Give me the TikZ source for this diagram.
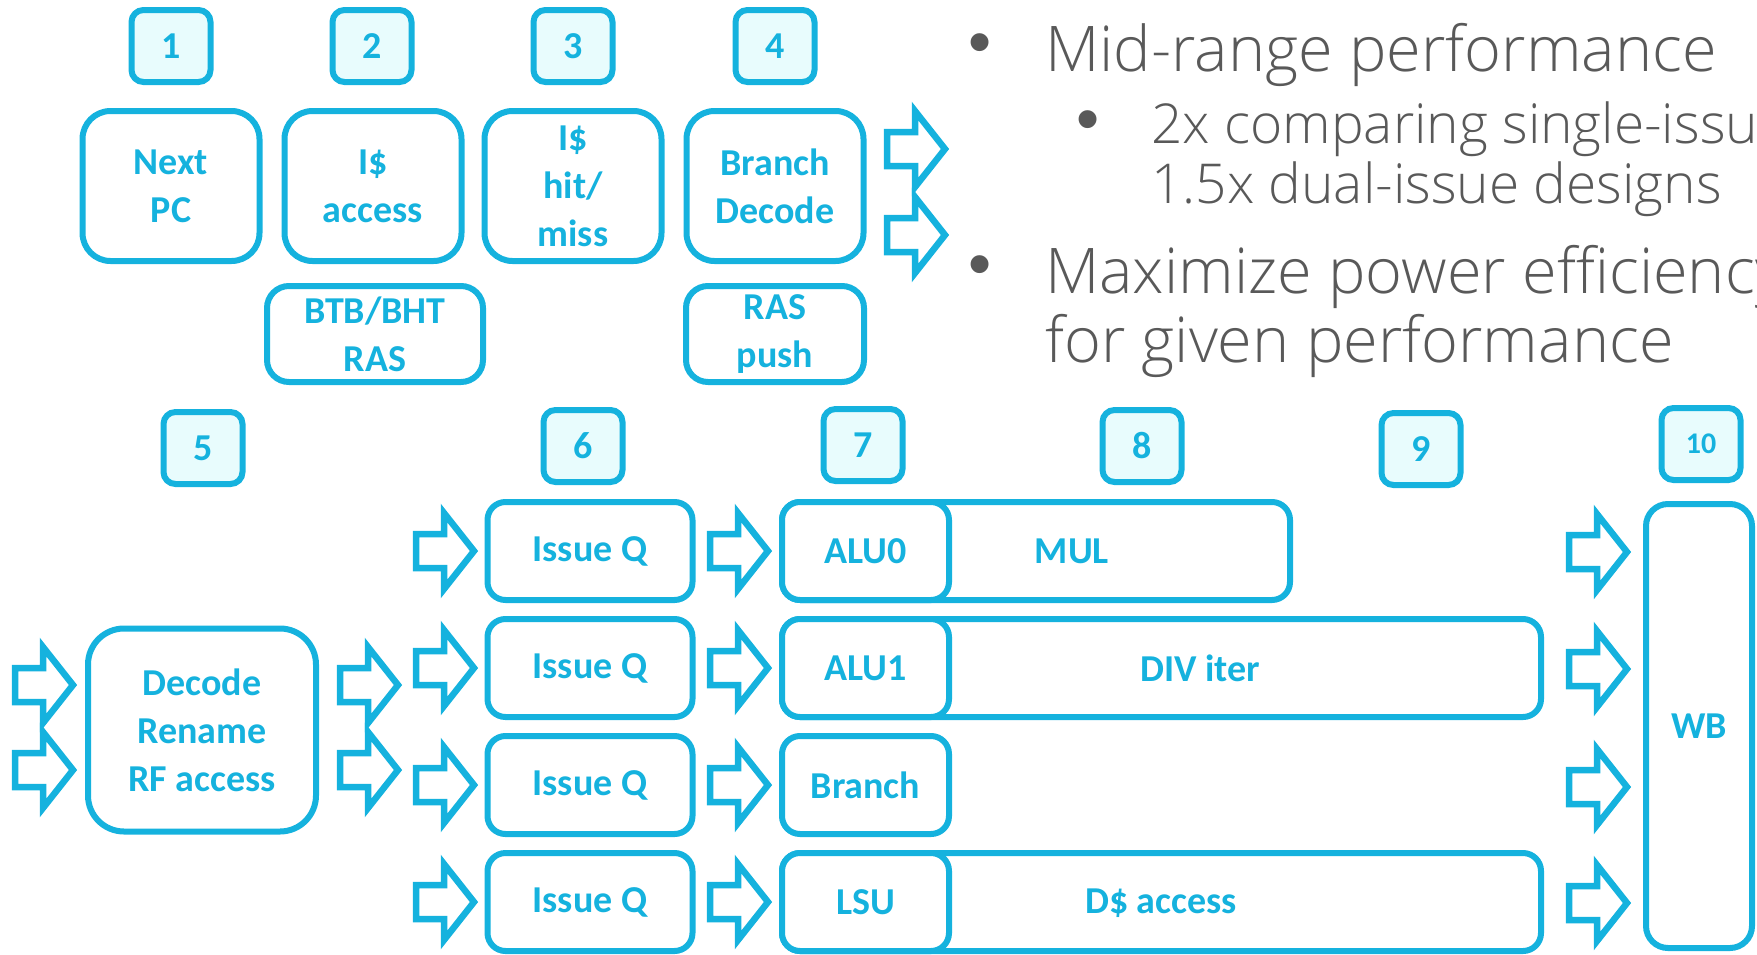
\documentclass[tikz,border=0pt]{standalone}
\usepackage{fontspec}
\setmainfont{Carlito}
\IfFontExistsTF{Open Sans Light}{\newfontfamily\grayfont{Open Sans Light}}{\IfFontExistsTF{Lato Light}{\newfontfamily\grayfont{Lato Light}}{\newfontfamily\grayfont{Lato}}}
\newfontfamily\bulletfont{Liberation Sans}
\definecolor{cb}{HTML}{15B2DE}
\definecolor{cfill}{HTML}{E8FCFD}
\definecolor{tg}{HTML}{595959}
\tikzset{
  box/.style={draw=cb, line width=6pt, rounded corners=22pt, fill=white, text=cb,
    font=\bfseries\fontsize{38}{48}\selectfont, align=center, inner sep=0pt},
  numbox/.style={box, rounded corners=12pt, fill=cfill, minimum width=79pt, minimum height=72pt},
  bigbox/.style={box, minimum width=177pt, minimum height=150pt, rounded corners=28pt},
  lowbox/.style={box, minimum height=96pt},
  rowbox/.style={box, minimum height=98pt, rounded corners=18pt},
  lbl/.style={text=cb, font=\bfseries\fontsize{38}{48}\selectfont, inner sep=0pt},
  gmain/.style={text=tg, anchor=base west, inner sep=0pt, font=\grayfont\fontsize{63}{63}\selectfont},
  gsub/.style={text=tg, anchor=base west, inner sep=0pt, font=\grayfont\fontsize{55}{55}\selectfont},
  bul/.style={text=tg, anchor=center, inner sep=0pt, font=\bulletfont\fontsize{66}{66}\selectfont},
  arrowline/.style={draw=cb, line width=6.5pt, fill=white, line join=miter},
  blk/.pic={\path[arrowline] (0,-17) -- (28,-17) -- (28,-38) -- (58,0) -- (28,38) -- (28,17) -- (0,17) -- cycle;}
}
\begin{document}
\begin{tikzpicture}[x=1pt,y=-1pt]
\useasboundingbox (0,0) rectangle (1757,954);
\clip (0,0) rectangle (1757,954);
% ---------- top stage numbers
\node[numbox] (n1) at (171,46) {1};
\node[numbox] (n2) at (372,46) {2};
\node[numbox] (n3) at (573,46) {3};
\node[numbox] (n4) at (775,46) {4};
% ---------- front-end boxes
\node[bigbox] (npc) at (171,186) {Next\\PC};
\node[bigbox] (iacc) at (373,186) {I\$\\access};
\node[bigbox] (ihit) at (573,186) {I\$\\hit/\\miss};
\node[bigbox] (bdec) at (775,186) {Branch\\Decode};
\node[lowbox, minimum width=216pt] (btb) at (375,334) {BTB/BHT\\RAS};
\node[lowbox, minimum width=178pt] (ras) at (775,334) {RAS\\push};
\pic at (887,149) {blk};
\pic at (887,235) {blk};
% ---------- bullet text
\node[bul] (b1) at (980,49) {•};
\node[gmain] (t1) at (1045,71) {Mid-range performance};
\node[bul] (b2) at (1088,126) {•};
\node[gsub] (t2) at (1151,143) {2x comparing single-issue};
\node[gsub] (t3) at (1151,203) {1.5x dual-issue designs};
\node[bul] (b3) at (980,271) {•};
\node[gmain] (t4) at (1045,293) {Maximize power efficiency};
\node[gmain] (t5) at (1045,362) {for given performance};
% ---------- bottom stage numbers
\node[numbox] (n5) at (203,448) {5};
\node[numbox] (n6) at (583,446) {6};
\node[numbox] (n7) at (863,445) {7};
\node[numbox] (n8) at (1142,446) {8};
\node[numbox] (n9) at (1421,449) {9};
\node[numbox, font=\bfseries\fontsize{30}{36}\selectfont] (n10) at (1701,444) {10};
% ---------- decode
\node[box, minimum width=228pt, minimum height=203pt, rounded corners=36pt] (dec) at (202,730) {Decode\\Rename\\RF access};
\pic at (15,685) {blk};
\pic at (15,770) {blk};
\pic at (340,685) {blk};
\pic at (340,770) {blk};
% ---------- issue queues
\foreach \y/\n in {551/1,668/2,785/3,902/4}{
  \pic at (416,\y) {blk};
  \node[rowbox, minimum width=205pt] (iq\n) at (590,\y) {\raisebox{-3pt}{Issue Q}};
  \pic at (710,\y) {blk};
}
% ---------- execution units
\node[rowbox, minimum width=508pt] (mul) at (1036,551) {};
\node[rowbox, minimum width=759pt] (div) at (1161.5,668) {};
\node[rowbox, minimum width=759pt] (dca) at (1161.5,902) {};
\node[rowbox, minimum width=167pt] (alu0) at (865.5,551) {ALU0};
\node[rowbox, minimum width=167pt] (alu1) at (865.5,668) {ALU1};
\node[rowbox, minimum width=167pt] (br) at (865.5,785) {Branch};
\node[rowbox, minimum width=167pt] (lsu) at (865.5,902) {LSU};
\node[lbl] (mull) at (1072,551) {MUL};
\node[lbl] (divl) at (1200,668) {DIV iter};
\node[lbl] (dcal) at (1161,903) {D\$ access};
% ---------- writeback
\foreach \y in {552,669,787,903}{\pic at (1569,\y) {blk};}
\node[box, minimum width=106pt, minimum height=444pt, rounded corners=22pt] (wb) at (1699,726) {WB};
\end{tikzpicture}
\end{document}
